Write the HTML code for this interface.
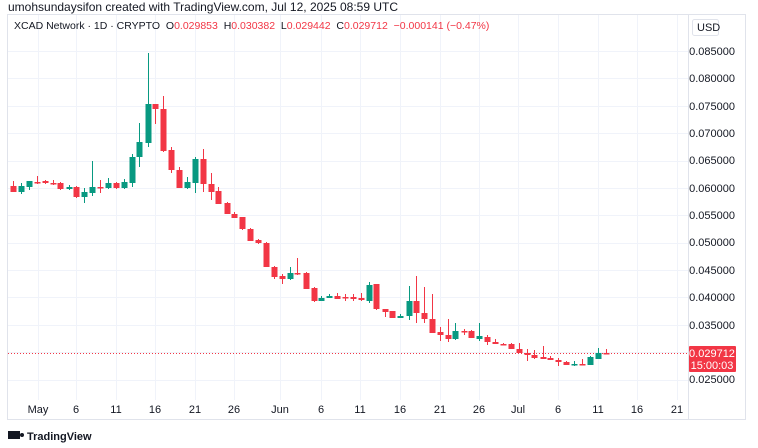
<!DOCTYPE html>
<html><head><meta charset="utf-8"><style>
body{margin:0;width:758px;height:448px;background:#fff;overflow:hidden;font-family:"Liberation Sans",sans-serif;position:relative}
.t{position:absolute;white-space:nowrap}
</style></head><body>
<div class="t" style="left:8px;top:0px;font-size:12px;color:#131722">umohsundaysifon created with TradingView.com, Jul 12, 2025 08:59 UTC</div>
<svg width="758" height="448" style="position:absolute;left:0;top:0" id="s">
<rect x="7.5" y="14.5" width="738" height="405" fill="none" stroke="#e0e3eb"/>
<line x1="688.5" y1="15" x2="688.5" y2="419" stroke="#e0e3eb"/>
<g id="grid" stroke="#f0f3fa" stroke-width="1"></g>
<line x1="8" y1="353.5" x2="688" y2="353.5" stroke="#f23645" stroke-dasharray="1,2"/>
<g id="c"></g>
<rect x="689" y="346" width="47" height="26" fill="#f23645" rx="1"/>
<text x="712" y="357" font-size="11" fill="#fff" text-anchor="middle" font-family="Liberation Sans">0.029712</text>
<text x="712" y="369" font-size="11" fill="#fff" text-anchor="middle" font-family="Liberation Sans">15:00:03</text>
<rect x="692.5" y="19.5" width="26" height="16" fill="#fff" stroke="#e0e3eb" rx="2"/>
<text x="697" y="31" font-size="11" fill="#131722" font-family="Liberation Sans">USD</text>
<g font-size="11" fill="#131722" font-family="Liberation Sans" text-anchor="end">
<text x="735" y="55">0.085000</text><text x="735" y="82">0.080000</text><text x="735" y="110">0.075000</text>
<text x="735" y="137">0.070000</text><text x="735" y="164">0.065000</text><text x="735" y="192">0.060000</text>
<text x="735" y="219">0.055000</text><text x="735" y="246">0.050000</text><text x="735" y="274">0.045000</text>
<text x="735" y="301">0.040000</text><text x="735" y="329">0.035000</text><text x="735" y="383">0.025000</text>
</g>
<g font-size="11" fill="#131722" font-family="Liberation Sans" text-anchor="middle">
<text x="38" y="413">May</text><text x="76" y="413">6</text><text x="116" y="413">11</text><text x="155" y="413">16</text>
<text x="195" y="413">21</text><text x="234" y="413">26</text><text x="280" y="413">Jun</text><text x="321" y="413">6</text>
<text x="360" y="413">11</text><text x="400" y="413">16</text><text x="440" y="413">21</text><text x="479" y="413">26</text>
<text x="518" y="413">Jul</text><text x="558" y="413">6</text><text x="598" y="413">11</text><text x="637" y="413">16</text><text x="677" y="413">21</text>
</g>
<g><rect x="8" y="431" width="12" height="8" fill="#131722"/><circle cx="22" cy="435" r="2" fill="#131722"/></g>
<text x="27" y="440" font-size="11" font-weight="bold" fill="#131722" font-family="Liberation Sans">TradingView</text>
</svg>
<div class="t" style="left:14px;top:20px;font-size:10.5px;color:#131722">XCAD Network · 1D · CRYPTO &nbsp;O<span style="color:#f23645">0.029853</span> &nbsp;H<span style="color:#f23645">0.030382</span> &nbsp;L<span style="color:#f23645">0.029442</span> &nbsp;C<span style="color:#f23645">0.029712</span> &nbsp;<span style="color:#f23645">−0.000141 (−0.47%)</span></div>
<script>
var NS="http://www.w3.org/2000/svg";
function el(p,t,a){var e=document.createElementNS(NS,t);for(var k in a)e.setAttribute(k,a[k]);p.appendChild(e);return e;}
var g=document.getElementById("grid");
for(var k=0;k<13;k++){var y=Math.round(51+k*27.375)+.5;el(g,"line",{x1:8,x2:688,y1:y,y2:y});}
[38,76,116,155,195,234,280,321,360,400,440,479,518,558,598,637,677].forEach(function(x){el(g,"line",{x1:x+.5,x2:x+.5,y1:15,y2:400});});
// x, open_y, close_y, high_y, low_y
var d=[[13,186,192,181,192],[21,192,186,183,194],[29,187,181,181,190],[37,182,182,176,184],[45,181,183,180,184],[53,183,184,180,185],[60,183,189,182,190],[69,189,187,185,190],[76,187,197,186,198],[84,197,192,188,203],[92,193,187,161,196],[100,187,188,180,193],[108,188,183,178,189],[116,183,188,182,189],[124,188,182,179,189],[132,183,157,154,187],[139,157,142,123,167],[148,143,104,53,147],[155,104,109,104,124],[163,109,151,96,152],[171,150,170,147,173],[179,170,188,167,188],[187,188,182,177,189],[195,183,159,157,193],[203,159,184,149,192],[211,184,192,173,200],[218,191,204,187,204],[227,203,214,202,214],[234,214,218,212,218],[242,217,229,217,230],[250,229,241,228,241],[258,240,243,239,244],[266,243,267,242,267],[274,267,277,266,279],[282,276,279,274,284],[290,279,273,267,280],[297,273,274,258,275],[306,273,289,272,289],[314,288,301,287,302],[321,301,298,296,301],[329,298,296,294,298],[337,296,299,293,299],[345,297,297,294,301],[353,297,299,294,301],[361,298,300,293,301],[369,301,285,282,303],[376,284,309,284,310],[385,309,312,309,317],[392,311,318,311,318],[400,318,316,314,318],[409,316,301,286,320],[416,301,313,276,323],[424,313,319,287,323],[432,319,333,294,333],[440,332,335,327,341],[448,335,339,319,342],[455,339,331,323,340],[464,331,332,329,335],[471,331,338,330,338],[479,339,336,323,341],[487,337,342,335,345],[495,342,344,339,344],[503,344,345,343,345],[511,344,349,343,349],[519,349,353,343,353],[527,353,355,349,361],[534,355,358,350,359],[543,357,359,346,359],[550,358,360,356,360],[558,360,362,358,366],[566,362,365,361,365],[574,365,364,361,366],[582,364,365,359,365],[590,365,357,356,365],[598,359,353,348,359],[606,353,354,349,354]];
var c=document.getElementById("c");
d.forEach(function(a){var x=a[0],o=a[1],cl=a[2],h=a[3],l=a[4];var col=cl>o?"#f23645":(cl<o?"#089981":"#f23645");
el(c,"line",{x1:x+.5,x2:x+.5,y1:h,y2:l,stroke:col,"stroke-width":1});
var t=Math.min(o,cl),b=Math.max(o,cl);if(b-t<1.5)b=t+1.5;
el(c,"rect",{x:x-2.5,y:t,width:6,height:b-t,fill:col});});
</script>
</body></html>
